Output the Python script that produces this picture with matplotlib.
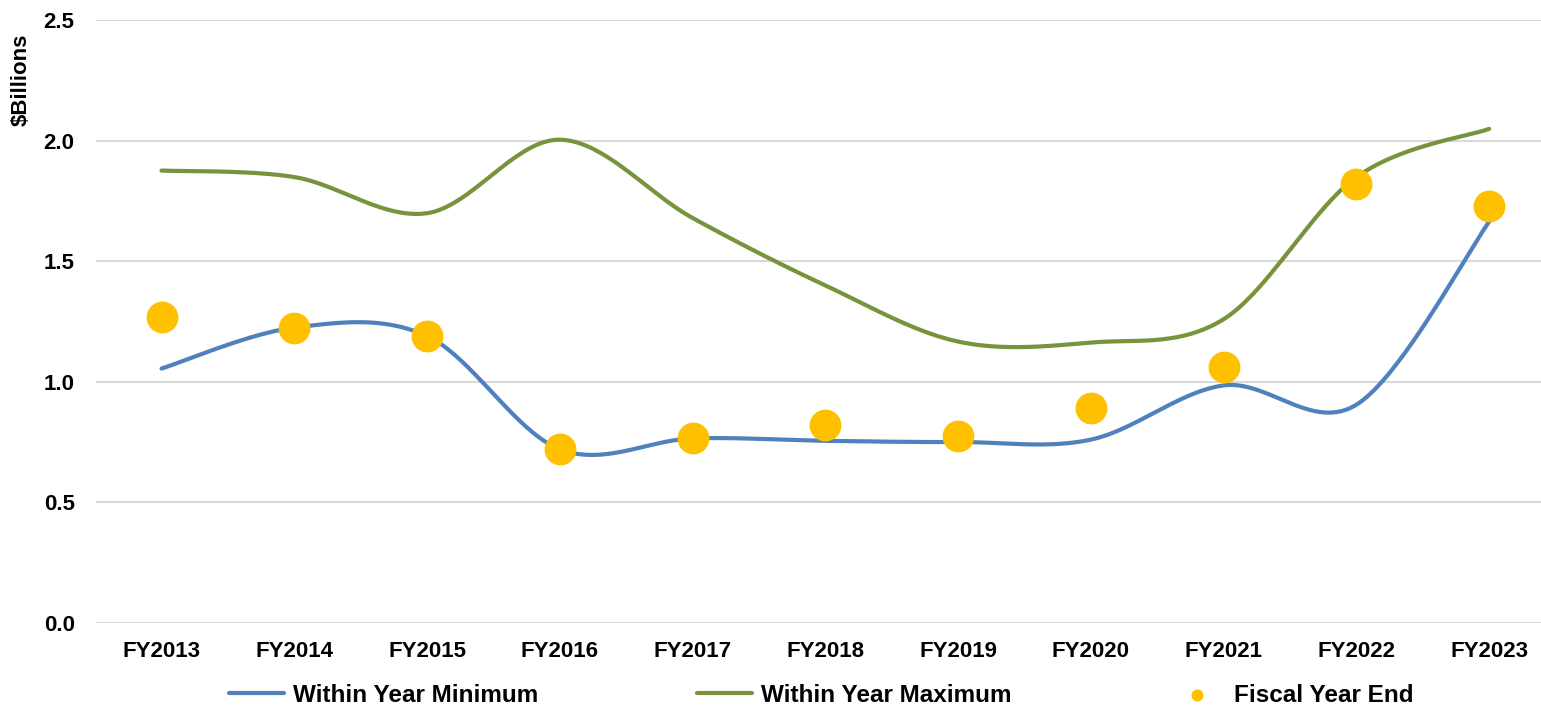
import numpy as np
import matplotlib.pyplot as plt

plt.rcParams['font.family'] = ['Liberation Sans', 'DejaVu Sans']
plt.rcParams['font.weight'] = 'bold'
plt.rcParams['axes.labelweight'] = 'bold'

years = ["FY2013", "FY2014", "FY2015", "FY2016", "FY2017", "FY2018",
         "FY2019", "FY2020", "FY2021", "FY2022", "FY2023"]
within_min = [1.055, 1.225, 1.19, 0.72, 0.765, 0.755, 0.75, 0.76, 0.985, 0.905, 1.665]
within_max = [1.877, 1.85, 1.70, 2.005, 1.68, 1.40, 1.167, 1.163, 1.26, 1.85, 2.05]
fiscal_end = [1.267, 1.225, 1.19, 0.72, 0.765, 0.82, 0.775, 0.89, 1.06, 1.82, 1.73]


def smooth(xs, ys, n=40):
    # Excel-like smoothed line: cubic Bezier with Catmull-Rom control points
    xs = np.asarray(xs, float)
    ys = np.asarray(ys, float)
    px = np.concatenate([[xs[0]], xs, [xs[-1]]])
    py = np.concatenate([[ys[0]], ys, [ys[-1]]])
    t = np.linspace(0, 1, n)
    outx, outy = [], []
    for i in range(1, len(px) - 2):
        p0 = np.array([px[i], py[i]])
        p3 = np.array([px[i + 1], py[i + 1]])
        c1 = p0 + (p3 - np.array([px[i - 1], py[i - 1]])) / 6
        c2 = p3 - (np.array([px[i + 2], py[i + 2]]) - p0) / 6
        pts = ((1 - t) ** 3)[:, None] * p0 + (3 * (1 - t) ** 2 * t)[:, None] * c1 \
            + (3 * (1 - t) * t ** 2)[:, None] * c2 + (t ** 3)[:, None] * p3
        outx.extend(pts[:, 0])
        outy.extend(pts[:, 1])
    return outx, outy


fig = plt.figure(figsize=(15.41, 7.06), dpi=100)
ax = fig.add_axes([0.062, 0.118, 0.938, 0.853])

x = np.arange(len(years))
sx, sy = smooth(x, within_min)
ax.plot(sx, sy, color='#4F81BD', lw=3, solid_capstyle='round', label='Within Year Minimum')
sx, sy = smooth(x, within_max)
ax.plot(sx, sy, color='#77933C', lw=3, solid_capstyle='round', label='Within Year Maximum')
ax.scatter(x, fiscal_end, s=480, color='#FFC000', zorder=3, label='Fiscal Year End')

ax.set_xlim(-0.497, len(years) - 0.61)
ax.set_ylim(0, 2.5)
ax.set_yticks(np.arange(0, 2.51, 0.5))
ax.set_yticklabels([f"{v:.1f}" for v in np.arange(0, 2.51, 0.5)])
ax.set_xticks(x)
ax.set_xticklabels(years)
ax.tick_params(axis='both', length=0, labelsize=16)
ax.tick_params(axis='x', pad=13)
ax.tick_params(axis='y', pad=15)
ax.grid(axis='y', color='#D9D9D9', lw=1.5)
ax.set_axisbelow(True)
for s in ax.spines.values():
    s.set_visible(False)
ax.set_ylabel('$Billions', fontsize=16, fontweight='bold')
ax.yaxis.set_label_coords(-0.044, 0.902)

h, l = ax.get_legend_handles_labels()
leg = fig.legend(h, l, loc='lower center', ncol=3, frameon=False,
                 prop={'size': 17.5, 'weight': 'bold'},
                 bbox_to_anchor=(0.533, -0.032), columnspacing=6.5, handlelength=2.26,
                 handletextpad=0.4, markerscale=0.35)

fig.savefig('out.png', dpi=100)
